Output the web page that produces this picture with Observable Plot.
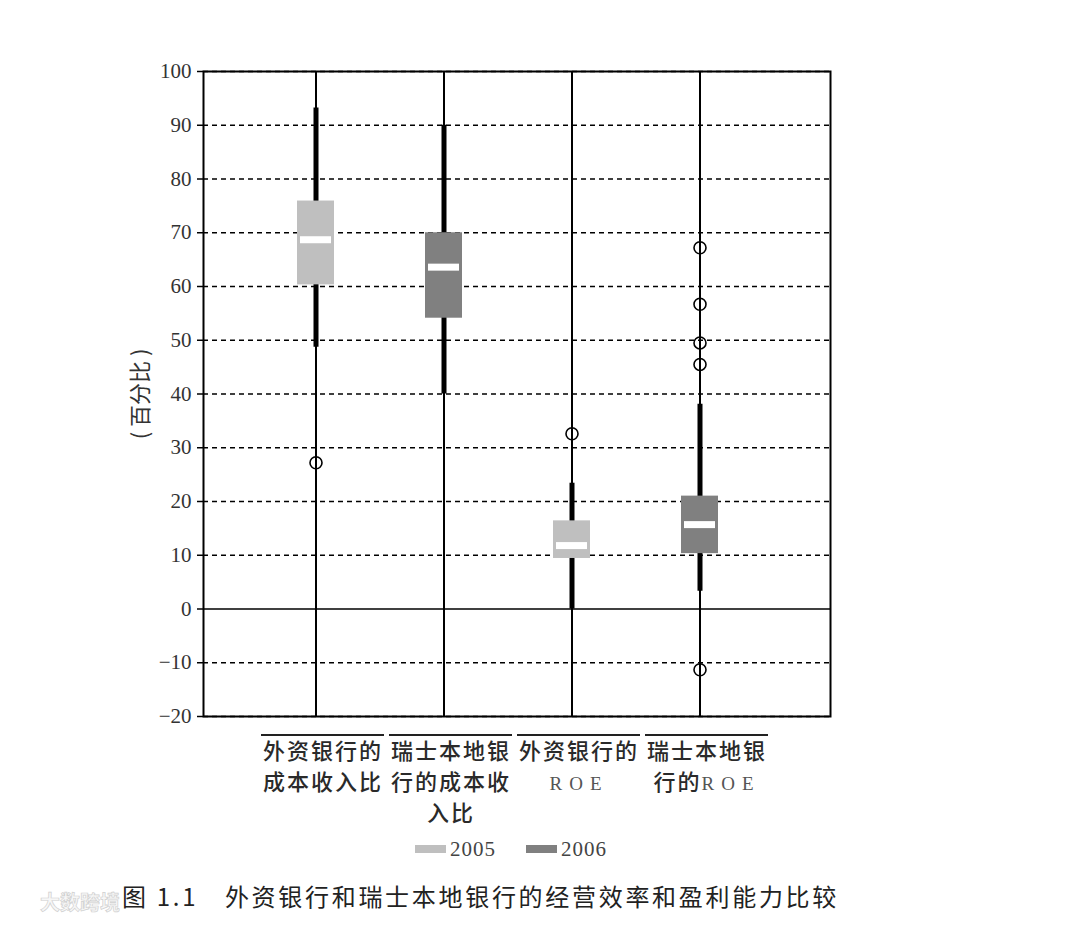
<!DOCTYPE html>
<html><head><meta charset="utf-8">
<script src="https://cdn.jsdelivr.net/npm/d3@7"></script>
<script src="https://cdn.jsdelivr.net/npm/@observablehq/plot@0.6"></script>
<style>
body{margin:0;background:#fff;}
#wrap{position:relative;width:1080px;height:926px;overflow:hidden;background:#fff;}
#chart{position:absolute;left:0;top:0;}
#chart svg{display:block;}
#legend{position:absolute;left:415px;top:837px;display:flex;align-items:center;font-family:"Liberation Serif",serif;font-size:21px;color:#444;letter-spacing:1px;line-height:24px;}
#legend .sw{display:inline-block;width:31px;height:8px;margin-right:4px;}
#legend .item{display:flex;align-items:center;margin-right:30px;}
#caption{position:absolute;left:122px;top:880px;font-family:"Noto Sans CJK SC",sans-serif;font-size:24px;letter-spacing:2.7px;color:#222;white-space:pre;line-height:32px;}
#wm{position:absolute;left:40px;top:887px;font-family:"Noto Sans CJK SC",sans-serif;font-weight:700;font-size:20px;color:#f7f7f7;-webkit-text-stroke:0.7px #d0d0d0;white-space:pre;}
</style></head>
<body>
<div id="wrap">
  <div id="chart"></div>
  <div id="legend"></div>
  <div id="wm">大数跨境</div>
  <div id="caption"></div>
</div>
<script>
// ---- data ----
const categories = ["外资银行的\n成本收入比", "瑞士本地银\n行的成本收\n入比", "外资银行的\nROE", "瑞士本地银\n行的ROE"];
const boxYear = ["2005", "2006", "2005", "2006"];
const whiskerLow = [48.7, 40, 0, 3.3];
const q1 = [60.3, 54.1, 9.4, 10.3];
const median = [68.7, 63.6, 11.8, 15.7];
const q3 = [75.9, 70, 16.4, 21];
const whiskerHigh = [93.2, 90, 23.4, 38.1];
const outlierCategory = [0, 2, 3, 3, 3, 3, 3];
const outlierValue = [27.2, 32.6, 67.2, 56.7, 49.5, 45.5, -11.3];
const yTicks = [-20, -10, 0, 10, 20, 30, 40, 50, 60, 70, 80, 90, 100];
const legendYears = ["2005", "2006"];
const legendColors = ["#bfbfbf", "#808080"];
const yLabel = "( 百分比 )";
const captionText = "图 1.1　外资银行和瑞士本地银行的经营效率和盈利能力比较";

// ---- tables built from arrays ----
const boxes = categories.map((c, i) => ({
  cat: c, year: boxYear[i], lo: whiskerLow[i], q1: q1[i], med: median[i], q3: q3[i], hi: whiskerHigh[i]
}));
const outliers = outlierValue.map((v, i) => ({cat: categories[outlierCategory[i]], v}));
const yMin = d3.min(yTicks);

const W = 1080, H = 840;
const chart = Plot.plot({
  width: W,
  height: H,
  marginTop: 71,
  marginBottom: H - 716,
  marginLeft: 203,
  marginRight: W - 830,
  style: {fontFamily: "'Noto Sans CJK SC', sans-serif", fontSize: "20px", color: "#222", background: "transparent"},
  x: {type: "band", domain: categories, paddingInner: 0.0365, paddingOuter: 0.454, align: 0.428, axis: null},
  y: {domain: [yMin, d3.max(yTicks)], ticks: yTicks, axis: null},
  color: {domain: legendYears, range: legendColors},
  marks: [
    Plot.gridY(yTicks.filter(t => t !== 0), {stroke: "#000", strokeOpacity: 1, strokeWidth: 1.5, strokeDasharray: "5,4"}),
    Plot.ruleY([0], {stroke: "#000", strokeWidth: 1.5}),
    Plot.axisY(yTicks, {tickSize: 6, tickPadding: 6, fontFamily: "'Liberation Serif', serif", fontSize: 21, fill: "#333", stroke: "#000", strokeWidth: 1.5, label: null, tickFormat: d => d < 0 ? "−" + Math.abs(d) : String(d)}),
    Plot.ruleX(categories, {x: d => d, stroke: "#000", strokeWidth: 2}),
    Plot.ruleX(boxes, {x: "cat", y1: "lo", y2: "hi", stroke: "#000", strokeWidth: 5}),
    Plot.barY(boxes, {x: "cat", y1: "q1", y2: "q3", fill: "year", insetLeft: 43, insetRight: 43}),
    Plot.tickY(boxes, {x: "cat", y: "med", stroke: "#fff", strokeWidth: 7, insetLeft: 46, insetRight: 46}),
    Plot.dot(outliers, {x: "cat", y: "v", r: 6, stroke: "#000", strokeWidth: 1.6, fill: "none"}),
    Plot.frame({stroke: "#000", strokeWidth: 2}),
    Plot.tickY(categories, {x: d => d, y: () => yMin, dy: 18.6, dx: 7, stroke: "#222", strokeWidth: 2}),
    Plot.text(categories, {x: d => d, y: () => yMin, dy: 20, dx: 7, text: d => d, lineAnchor: "top", lineHeight: 1.41, fontSize: 22, fontWeight: 500, fill: "#2a2a2a", className: "xlabels"}),
    Plot.text([yLabel], {frameAnchor: "left", rotate: -90, dx: -63, textAnchor: "middle", fontSize: 22, fill: "#333"})
  ]
});
document.getElementById("chart").appendChild(chart);

// label letter-spacing and serif "ROE"
d3.select(chart).selectAll(".xlabels text").style("letter-spacing", "2px");
d3.select(chart).selectAll(".xlabels tspan").each(function() {
  const t = this.textContent;
  const i = t.indexOf("ROE");
  if (i >= 0) {
    this.textContent = t.slice(0, i);
    d3.select(this).append("tspan")
      .attr("font-family", "'Liberation Serif', serif")
      .attr("font-weight", 400)
      .attr("font-size", 19)
      .attr("fill", "#555")
      .style("letter-spacing", "7px")
      .text("ROE");
  }
});

// legend
const legend = d3.select("#legend");
legendYears.forEach((yr, i) => {
  const it = legend.append("div").attr("class", "item");
  it.append("span").attr("class", "sw").style("background", legendColors[i]);
  it.append("span").text(yr);
});
document.getElementById("caption").textContent = captionText;
</script>
</body></html>
